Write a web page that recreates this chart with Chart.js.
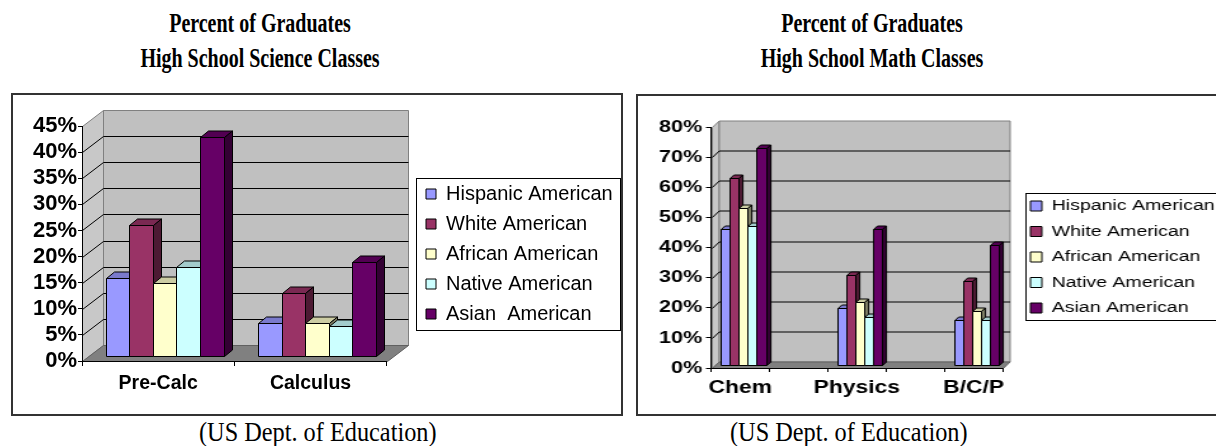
<!DOCTYPE html>
<html>
<head>
<meta charset="utf-8">
<title>Percent of Graduates</title>
<script src="https://cdn.jsdelivr.net/npm/chart.js@4.4.1/dist/chart.umd.min.js"></script>
<style>
    body { margin: 0; width: 1216px; height: 446px; background: #fff; position: relative; overflow: hidden; }
    .title { position: absolute; top: 6px; width: 400px; text-align: center; font: bold 27px 'Liberation Serif', 'Times New Roman', serif; line-height: 35px; transform: scaleX(0.74); }
    .chart-box { position: absolute; border: 2px solid #333; background: #fff; overflow: hidden; }
    .chart-box canvas { display: block; }
    .source { position: absolute; top: 417px; font: 27px 'Liberation Serif', 'Times New Roman', serif; line-height: 30px; transform: scaleX(0.9); transform-origin: 0 0; white-space: nowrap; }
</style>
</head>
<body>
<div id="app"></div>
<script>
// Series names and colours (same order in both charts)
const scienceGroups = ['Hispanic American', 'White American', 'African American', 'Native American', 'Asian  American'];
const mathGroups = ['Hispanic American', 'White American', 'African American', 'Native American', 'Asian American'];
const groupColors = ['#9999FF', '#993366', '#FFFFCC', '#CCFFFF', '#660066'];

// Left chart: Pre-Calc / Calculus (percent)
const scienceCategories = ['Pre-Calc', 'Calculus'];
const scienceHispanic = [15, 6.4];
const scienceWhite = [25, 12];
const scienceAfrican = [14, 6.4];
const scienceNative = [17, 5.8];
const scienceAsian = [42, 18];
const scienceTickStep = 5;
const scienceTickMax = 45;

// Right chart: Chem / Physics / B/C/P, with empty slots between groups
const mathCategories = ['Chem', '', 'Physics', '', 'B/C/P'];
const mathHispanic = [45, null, 19, null, 15];
const mathWhite = [62, null, 30, null, 28];
const mathAfrican = [52, null, 21, null, 18];
const mathNative = [46, null, 16, null, 15];
const mathAsian = [72, null, 45, null, 40];
const mathTickStep = 10;
const mathTickMax = 80;

Chart.defaults.font.family = "'Liberation Sans', Arial, sans-serif";
Chart.defaults.color = '#000';

function shade(hex, f) {
    const n = parseInt(hex.slice(1), 16);
    const r = Math.round(((n >> 16) & 255) * f);
    const g = Math.round(((n >> 8) & 255) * f);
    const b = Math.round((n & 255) * f);
    return `rgb(${r}, ${g}, ${b})`;
}

function poly(ctx, pts) {
    ctx.beginPath();
    pts.forEach((p, i) => i ? ctx.lineTo(p[0], p[1]) : ctx.moveTo(p[0], p[1]));
    ctx.closePath();
}

const crisp = v => Math.round(v) + 0.5;

// Old-style 3D look: walls, floor, bars with top and side faces, boxed legend
const box3dPlugin = {
    id: 'box3d',
    beforeLayout: function(chart, args, opts) {
        const legend = chart.legend;
        if (legend && !legend._fixedFit) {
            const fit = legend.fit;
            legend.fit = function() {
                fit.call(this);
                this.width = opts.legendWidth;
            };
            legend._fixedFit = true;
        }
    },
    afterLayout: function(chart, args, opts) {
        const legend = chart.legend;
        const b = opts.legendBox;
        const pad = legend.options.labels.padding;
        legend.left = b.itemsX - pad;
        legend.right = chart.width;
        legend.top = b.itemsY - pad;
        legend.bottom = chart.height;
        legend.width = legend.right - legend.left;
        legend.height = legend.bottom - legend.top;
    },
    beforeDraw: function(chart, args, opts) {
        const { ctx, chartArea: a, scales: { y } } = chart;
        const dx = opts.depth.x, dy = opts.depth.y;
        const L = crisp(a.left), R = crisp(a.right), T = crisp(a.top), B = crisp(a.bottom);
        ctx.save();
        ctx.lineWidth = 1;

        // side wall
        ctx.strokeStyle = '#808080';
        ctx.fillStyle = '#c8c8c8';
        poly(ctx, [[L, B], [L, T], [L + dx, T - dy], [L + dx, B - dy]]);
        ctx.fill();
        ctx.stroke();

        // back wall
        ctx.fillStyle = '#c0c0c0';
        poly(ctx, [[L + dx, T - dy], [R + dx, T - dy], [R + dx, B - dy], [L + dx, B - dy]]);
        ctx.fill();
        ctx.stroke();

        // floor
        ctx.fillStyle = '#808080';
        ctx.strokeStyle = '#606060';
        poly(ctx, [[L, B], [R, B], [R + dx, B - dy], [L + dx, B - dy]]);
        ctx.fill();
        ctx.stroke();

        // gridlines on side and back wall
        ctx.strokeStyle = '#000';
        y.ticks.forEach(t => {
            if (t.value <= y.min || t.value >= y.max) return;
            const py = crisp(y.getPixelForValue(t.value));
            ctx.beginPath();
            ctx.moveTo(L, py);
            ctx.lineTo(L + dx, py - dy);
            ctx.lineTo(R + dx, py - dy);
            ctx.stroke();
        });
        ctx.restore();
    },
    beforeDatasetsDraw: function(chart, args, opts) {
        const ctx = chart.ctx;
        const fx = opts.barOffset.x, fy = opts.barOffset.y;
        const bx = opts.barDepth.x, by = opts.barDepth.y;
        const bars = [];

        chart.data.datasets.forEach((ds, i) => {
            const meta = chart.getDatasetMeta(i);
            meta.data.forEach((el, j) => {
                if (ds.data[j] == null) return;
                const p = el.getProps(['x', 'y', 'base', 'width'], true);
                bars.push({
                    l: crisp(p.x - p.width / 2 + fx),
                    r: crisp(p.x + p.width / 2 + fx),
                    t: crisp(p.y - fy),
                    b: crisp(p.base - fy),
                    color: ds.backgroundColor
                });
            });
        });

        // left to right so each bar hides the side face of the one before it
        bars.sort((m, n) => m.l - n.l);

        ctx.save();
        ctx.lineWidth = 1;
        ctx.strokeStyle = '#000';
        ctx.lineJoin = 'round';
        bars.forEach(bar => {
            const { l, r, t, b } = bar;
            poly(ctx, [[l, t], [r, t], [r + bx, t - by], [l + bx, t - by]]);
            ctx.fillStyle = shade(bar.color, 0.8);
            ctx.fill();
            ctx.stroke();

            poly(ctx, [[r, t], [r + bx, t - by], [r + bx, b - by], [r, b]]);
            ctx.fillStyle = shade(bar.color, 0.5);
            ctx.fill();
            ctx.stroke();

            ctx.fillStyle = bar.color;
            ctx.fillRect(l, t, r - l, b - t);
            ctx.strokeRect(l, t, r - l, b - t);
        });
        ctx.restore();
        return false;
    },
    afterDraw: function(chart, args, opts) {
        const b = opts.legendBox;
        const ctx = chart.ctx;
        ctx.save();
        ctx.strokeStyle = '#000';
        ctx.lineWidth = 1;
        ctx.strokeRect(crisp(b.left), crisp(b.top), Math.round(b.right - b.left), Math.round(b.bottom - b.top));
        ctx.restore();
    }
};

function buildDatasets(labels, series) {
    return labels.map((label, i) => ({
        label: label,
        data: series[i],
        backgroundColor: groupColors[i],
        borderColor: '#000',
        borderWidth: 1
    }));
}

const GraduatesCharts = {
    init: function(container) {
        this.container = container;
        this.render();
        this.setupCharts();
    },

    render: function() {
        const html = `
            <div class="title" style="left: 60px;">Percent of Graduates<br>High School Science Classes</div>
            <div class="title" style="left: 672px;">Percent of Graduates<br>High School Math Classes</div>

            <div class="chart-box" style="left: 11px; top: 93px; width: 608px; height: 319px;">
                <canvas id="science-chart" width="608" height="319"></canvas>
            </div>
            <div class="chart-box" style="left: 636px; top: 94px; width: 600px; height: 318px;">
                <canvas id="math-chart" width="470" height="318" style="transform: scaleX(1.27); transform-origin: 0 0;"></canvas>
            </div>

            <div class="source" style="left: 199px;">(US Dept. of Education)</div>
            <div class="source" style="left: 730px;">(US Dept. of Education)</div>
        `;
        this.container.innerHTML = html;
    },

    setupCharts: function() {
        this.createScienceChart();
        this.createMathChart();
    },

    createScienceChart: function() {
        const ctx = document.getElementById('science-chart').getContext('2d');
        const series = [scienceHispanic, scienceWhite, scienceAfrican, scienceNative, scienceAsian];

        new Chart(ctx, {
            type: 'bar',
            data: {
                labels: scienceCategories,
                datasets: buildDatasets(scienceGroups, series)
            },
            options: {
                responsive: false,
                animation: false,
                devicePixelRatio: 1,
                categoryPercentage: 0.774,
                barPercentage: 1,
                layout: { padding: { top: 31, left: 0, right: 0, bottom: 0 } },
                scales: {
                    x: {
                        grid: { drawOnChartArea: false, color: '#000', tickLength: 5 },
                        border: { color: '#000' },
                        ticks: { font: { size: 19.5, weight: 'bold' }, padding: 6, maxRotation: 0, autoSkip: false },
                        afterFit: function(s) { s.height = 53; }
                    },
                    y: {
                        min: 0,
                        max: scienceTickMax,
                        grid: { drawOnChartArea: false, color: '#000', tickLength: 4 },
                        border: { color: '#000' },
                        ticks: {
                            stepSize: scienceTickStep,
                            maxTicksLimit: 20,
                            autoSkip: false,
                            font: { size: 22, weight: 'bold' },
                            padding: 1,
                            callback: function(value) { return value + '%'; }
                        },
                        afterFit: function(s) { s.width = 69; }
                    }
                },
                plugins: {
                    tooltip: { enabled: false },
                    legend: {
                        position: 'right',
                        align: 'start',
                        labels: { font: { size: 20 }, boxWidth: 10, boxHeight: 10, padding: 10 }
                    },
                    box3d: {
                        depth: { x: 21, y: 16 },
                        barOffset: { x: 6.5, y: 5 },
                        barDepth: { x: 8, y: 6.5 },
                        legendWidth: 234.3,
                        legendBox: { left: 403, top: 83, right: 607, bottom: 235, itemsX: 413, itemsY: 89 }
                    }
                }
            },
            plugins: [box3dPlugin]
        });
    },

    createMathChart: function() {
        const ctx = document.getElementById('math-chart').getContext('2d');
        const series = [mathHispanic, mathWhite, mathAfrican, mathNative, mathAsian];

        new Chart(ctx, {
            type: 'bar',
            data: {
                labels: mathCategories,
                datasets: buildDatasets(mathGroups, series)
            },
            options: {
                responsive: false,
                animation: false,
                devicePixelRatio: 1,
                categoryPercentage: 0.77,
                barPercentage: 1,
                layout: { padding: { top: 31, left: 0, right: 0, bottom: 0 } },
                scales: {
                    x: {
                        grid: { drawOnChartArea: false, color: '#000', tickLength: 4 },
                        border: { color: '#000' },
                        ticks: { font: { size: 18, weight: 'bold' }, padding: 5, maxRotation: 0, minRotation: 0, autoSkip: false },
                        afterFit: function(s) { s.height = 46; }
                    },
                    y: {
                        min: 0,
                        max: mathTickMax,
                        grid: { drawOnChartArea: false, color: '#000', tickLength: 4 },
                        border: { color: '#000' },
                        ticks: {
                            stepSize: mathTickStep,
                            maxTicksLimit: 20,
                            autoSkip: false,
                            font: { size: 17, weight: 'bold' },
                            padding: 3,
                            callback: function(value) { return value + '%'; }
                        },
                        afterFit: function(s) { s.width = 57.5; }
                    }
                },
                plugins: {
                    tooltip: { enabled: false },
                    legend: {
                        position: 'right',
                        align: 'start',
                        labels: { font: { size: 15.4 }, boxWidth: 9, boxHeight: 10, padding: 10.1 }
                    },
                    box3d: {
                        depth: { x: 5.5, y: 6.5 },
                        barOffset: { x: 2.4, y: 3 },
                        barDepth: { x: 3.1, y: 3.5 },
                        legendWidth: 182.8,
                        legendBox: { left: 305, top: 97, right: 480, bottom: 224, itemsX: 309, itemsY: 102.3 }
                    }
                }
            },
            plugins: [box3dPlugin]
        });
    }
};

GraduatesCharts.init(document.getElementById('app'));
</script>
</body>
</html>
